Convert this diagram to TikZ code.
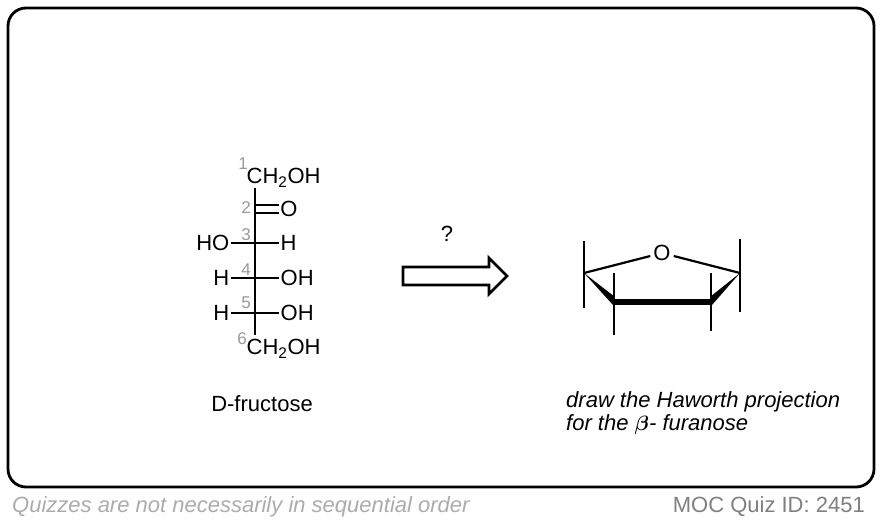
\documentclass[tikz,border=0pt]{standalone}
\usepackage{fontspec}
\setmainfont{Liberation Sans}
\usetikzlibrary{calc,positioning}
\newcommand{\chemfont}{\fontsize{22}{24}\selectfont}
\newcommand{\numfont}{\fontsize{17}{18}\selectfont}
\tikzset{
  bond/.style={line width=2.8pt},
  ringbond/.style={line width=2.2pt},
  atom/.style={inner sep=1.5pt,font=\chemfont,text height=15pt,text depth=0pt},
  carbonnum/.style={inner sep=0pt,font=\numfont,text=gray!80}
}

\begin{document}
\begin{tikzpicture}[x=1pt,y=-1pt]
  \useasboundingbox (0,0) rectangle (882,522);
  \fill[white] (0,0) rectangle (882,522);
  \draw[line width=2.8pt,rounded corners=18pt] (8,8) rectangle (874,487);

  \begin{scope}[every node/.style={atom}]
    \node[anchor=west] (top) at (245,176) {CH\textsubscript{2}OH};
    \node[anchor=west] (bottom) at (245,347) {CH\textsubscript{2}OH};
    \node (keto) at (289,209) {O};
    \node[anchor=east] (c3l) at (231,243) {HO};
    \node[anchor=west] (c3r) at (279,243) {H};
    \node[anchor=east] (c4l) at (231,278) {H};
    \node[anchor=west] (c4r) at (279,278) {OH};
    \node[anchor=east] (c5l) at (231,313) {H};
    \node[anchor=west] (c5r) at (279,313) {OH};
  \end{scope}
  \coordinate (c2) at (255,209);
  \coordinate (c2a) at (255,205);
  \coordinate (c2b) at (255,213);
  \coordinate (c3) at (255,243);
  \coordinate (c4) at (255,278);
  \coordinate (c5) at (255,313);

  \begin{scope}[bond]
    \draw (255,188) coordinate (c1) -- (c2) -- (c3) -- (c4) -- (c5) -- (255,335) coordinate (c6);
    \draw (c2a) -- (c2a-|keto.west);
    \draw (c2b) -- (c2b-|keto.west);
    \foreach \c in {3,4,5} {
      \draw (c\c l) -- (c\c);
      \draw (c\c) -- (c\c r);
    }
  \end{scope}

  \begin{scope}[every node/.style={carbonnum}]
    \node (n1) at (243,164) {1};
    \node (n2) at (246,208) {2};
    \node (n3) at (246,235) {3};
    \node (n4) at (246,270) {4};
    \node (n5) at (246,303) {5};
    \node (n6) at (242,339) {6};
  \end{scope}

  \node[font=\chemfont] (name) at (262,404) {D-fructose};
  \node[font=\chemfont] (quest) at (447,234) {?};

  % reaction arrow
  \draw[line width=2.8pt,line join=miter,fill=white] (403,267) -- (489,267) -- (489,258) -- (507,276) -- (489,294) -- (489,285) -- (403,285) -- cycle;

  % furanose ring
  \node[atom,inner sep=3pt] (O) at (662,253) {O};
  \coordinate (left) at (584,273);
  \coordinate (right) at (740,273);
  \coordinate (fl) at (614,302);
  \coordinate (fr) at (711,302);
  \draw[ringbond] (left) -- (O);
  \draw[ringbond] (O) -- (right);
  \draw[line width=6pt] (fl) -- (fr);
  \fill (left) -- ($(fl)+(1,-5)$) -- ($(fl)+(-1,3)$) -- cycle;
  \fill (right) -- ($(fr)+(-1,-5)$) -- ($(fr)+(1,3)$) -- cycle;
  \begin{scope}[bond]
    \draw (left) -- (584,241);
    \draw (left) -- (584,308);
    \draw (right) -- (740,239);
    \draw (right) -- (740,312);
    \draw (fl) -- (614,273);
    \draw (fl) -- (614,335);
    \draw (fr) -- (711,273);
    \draw (fr) -- (711,331);
  \end{scope}

  \node[font=\chemfont\itshape,anchor=north west,align=left,inner sep=0pt] (task) at (566,391) {draw the Haworth projection\\[-0.5pt]for the {\boldmath$\beta$}- furanose};

  \node[font=\chemfont\itshape,text=gray!65,anchor=west,inner sep=0pt] (seq) at (12,507) {Quizzes are not necessarily in sequential order};
  \node[font=\chemfont,text=gray,anchor=east,inner sep=0pt] (quiz) at (865,507) {MOC Quiz ID: 2451};
\end{tikzpicture}
\end{document}
